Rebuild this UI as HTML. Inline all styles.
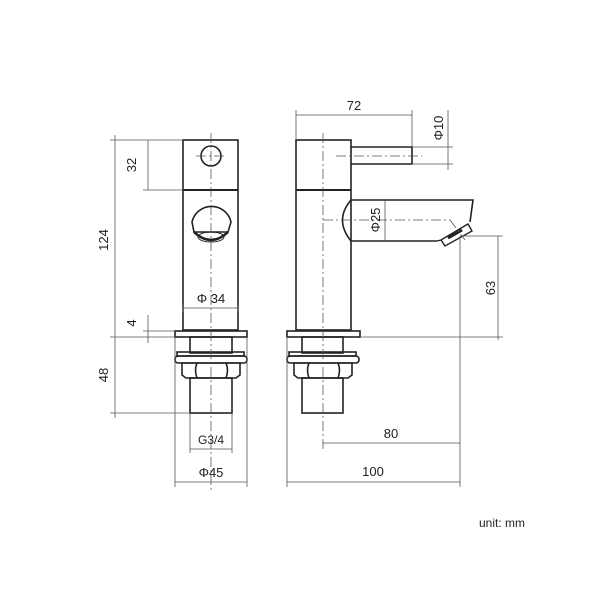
<!DOCTYPE html>
<html><head><style>body{margin:0;background:#fff}svg{display:block}text{font-family:"Liberation Sans",sans-serif;fill:#222}</style></head><body>
<svg width="600" height="600" viewBox="0 0 600 600">
<g fill="none" stroke="#222" stroke-width="1.6">
<!-- left view -->
<rect x="183" y="140" width="55" height="190"/>
<line x1="183" y1="190" x2="238" y2="190" stroke-width="2"/>
<circle cx="211" cy="156" r="10"/>
<path d="M192 222 A20 20 0 0 1 231 222 L228 232 L194 232 Z"/>
<path d="M194 232 Q211 248 228 232" stroke-width="2.5"/>
<ellipse cx="211" cy="237" rx="13" ry="5" stroke-width="1"/>
<rect x="175" y="331" width="72" height="6"/>
<rect x="190" y="337" width="42" height="16"/>
<rect x="177" y="352" width="67" height="4"/>
<rect x="175" y="356" width="72" height="7" rx="3"/>
<path d="M182 363 L240 363 L240 375 L236 378 L186 378 L182 375 Z"/>
<path d="M197 363 Q194 370 197 378 M226 363 Q229 370 226 378"/>
<rect x="190" y="378" width="42" height="35"/>
<!-- right view -->
<rect x="296" y="140" width="55" height="190"/>
<line x1="296" y1="190" x2="351" y2="190" stroke-width="2"/>
<path d="M351 147 L412 147 L412 164 L351 164"/>
<path d="M351 200 L473 200 L470 222 M437 241 L351 241 M351 200 Q334 220 351 241"/>
<path d="M437 241 L441 240 L468 224 L472 231 L445 246 L441 240" stroke-width="1.4"/>
<path d="M448 238 L462 230" stroke-width="3"/>
<rect x="287" y="331" width="73" height="6"/>
<rect x="302" y="337" width="41" height="16"/>
<rect x="289" y="352" width="67" height="4"/>
<rect x="287" y="356" width="72" height="7" rx="3"/>
<path d="M294 363 L352 363 L352 375 L348 378 L298 378 L294 375 Z"/>
<path d="M309 363 Q306 370 309 378 M338 363 Q341 370 338 378"/>
<rect x="302" y="378" width="41" height="35"/>
</g>
<g fill="none" stroke="#555" stroke-width="0.8">
<!-- center lines -->
<g stroke-dasharray="10 3 2 3">
<line x1="211" y1="133" x2="211" y2="490"/>
<line x1="196" y1="156" x2="226" y2="156"/>
<line x1="323" y1="133" x2="323" y2="450"/>
<line x1="336" y1="156" x2="422" y2="156"/>
<line x1="323" y1="220" x2="450" y2="220"/>
<line x1="450" y1="220" x2="465" y2="240"/>
</g>
<!-- left dims -->
<line x1="110" y1="140" x2="183" y2="140"/>
<line x1="110" y1="337" x2="175" y2="337"/>
<line x1="115" y1="135" x2="115" y2="418"/>
<line x1="143" y1="190" x2="183" y2="190"/>
<line x1="148" y1="140" x2="148" y2="190"/>
<line x1="143" y1="331" x2="175" y2="331"/>
<line x1="148" y1="315" x2="148" y2="343"/>
<line x1="110" y1="413" x2="190" y2="413"/>
<line x1="183" y1="305" x2="183" y2="312"/>
<line x1="238" y1="305" x2="238" y2="312"/>
<line x1="183" y1="308" x2="238" y2="308"/>
<line x1="190" y1="413" x2="190" y2="453"/>
<line x1="232" y1="413" x2="232" y2="453"/>
<line x1="190" y1="449" x2="232" y2="449"/>
<line x1="175" y1="337" x2="175" y2="487"/>
<line x1="247" y1="337" x2="247" y2="487"/>
<line x1="175" y1="482" x2="247" y2="482"/>
<!-- right dims -->
<line x1="296" y1="110" x2="296" y2="140"/>
<line x1="412" y1="110" x2="412" y2="147"/>
<line x1="296" y1="115" x2="412" y2="115"/>
<line x1="412" y1="147" x2="453" y2="147"/>
<line x1="412" y1="164" x2="453" y2="164"/>
<line x1="448" y1="110" x2="448" y2="170"/>
<line x1="385" y1="200" x2="385" y2="241"/>
<line x1="360" y1="337" x2="503" y2="337"/>
<line x1="460" y1="236" x2="503" y2="236"/>
<line x1="498" y1="236" x2="498" y2="340"/>
<line x1="460" y1="236" x2="460" y2="487"/>
<line x1="323" y1="443" x2="460" y2="443"/>
<line x1="287" y1="337" x2="287" y2="487"/>
<line x1="287" y1="482" x2="460" y2="482"/>
</g>
<g font-size="13">
<text x="131" y="165" text-anchor="middle" transform="rotate(-90 131 165)" dy="5">32</text>
<text x="103" y="240" text-anchor="middle" transform="rotate(-90 103 240)" dy="5">124</text>
<text x="131" y="323" text-anchor="middle" transform="rotate(-90 131 323)" dy="5">4</text>
<text x="103" y="375" text-anchor="middle" transform="rotate(-90 103 375)" dy="5">48</text>
<text x="211" y="303" text-anchor="middle">Φ 34</text>
<text x="211" y="444" text-anchor="middle" font-family="Liberation Serif" font-size="12">G3/4</text>
<text x="211" y="477" text-anchor="middle">Φ45</text>
<text x="354" y="110" text-anchor="middle">72</text>
<text x="438" y="128" text-anchor="middle" transform="rotate(-90 438 128)" dy="5">Φ10</text>
<text x="375" y="220" text-anchor="middle" transform="rotate(-90 375 220)" dy="5">Φ25</text>
<text x="490" y="288" text-anchor="middle" transform="rotate(-90 490 288)" dy="5">63</text>
<text x="391" y="438" text-anchor="middle">80</text>
<text x="373" y="476" text-anchor="middle">100</text>
<text x="502" y="527" text-anchor="middle" font-size="12">unit: mm</text>
</g>
</svg>
</body></html>
